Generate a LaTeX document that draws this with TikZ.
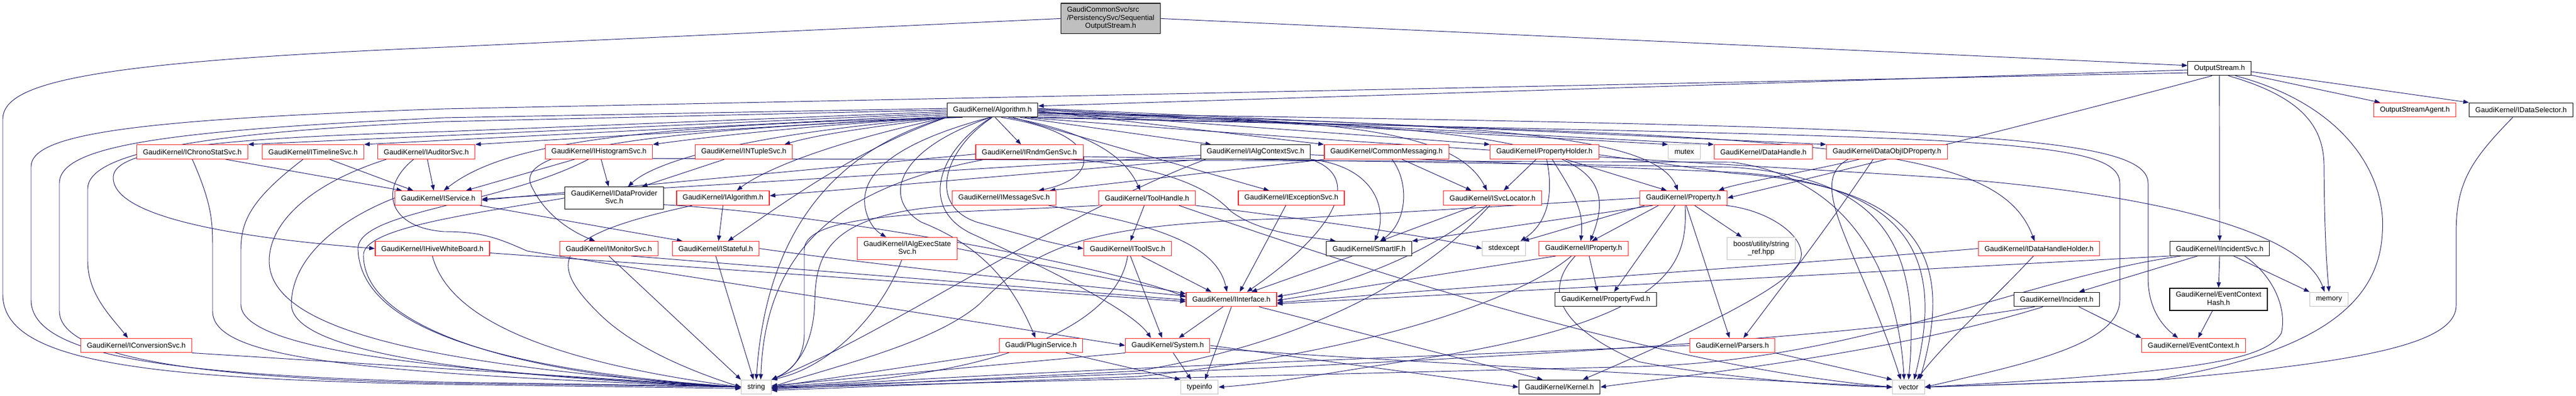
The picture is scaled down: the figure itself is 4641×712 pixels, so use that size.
\documentclass[tikz,border=0pt]{standalone}
\usepackage{fontspec}
\setmainfont{Liberation Sans}
\usetikzlibrary{arrows.meta}
\definecolor{mblue}{HTML}{191970}
\definecolor{lgray}{HTML}{BFBFBF}
\definecolor{nred}{HTML}{FF2020}
\pgfdeclarelayer{bg}
\pgfsetlayers{bg,main}
\newcommand\twol[2]{\begin{tabular}{@{}l@{}}#1\\\multicolumn{1}{@{}c@{}}{#2}\end{tabular}}
\tikzset{
  nb/.style={draw=black, line width=1.3pt, fill=white, font=\fontsize{13}{14.6}\selectfont,
             inner xsep=11pt, inner ysep=0pt, minimum height=25.6pt},
  nr/.style={nb, draw=nred},
  ng/.style={nb, draw=lgray},
  nm/.style={nb, fill=lgray, minimum height=54.7pt},
  tall/.style={minimum height=40pt},
  e/.style={draw=mblue, line width=0.95pt, -{Triangle[length=10pt,width=7.5pt]}}
}
\begin{document}
\begin{tikzpicture}[x=1pt,y=-1pt]
\begin{pgfonlayer}{bg}
\fill[white] (0,0) rectangle (4641,712);
\end{pgfonlayer}
\useasboundingbox (0,0) rectangle (4641,712);
% ---------------- nodes
\node[nm] (main) at (2001,33.4) {\begin{tabular}{@{}l@{}}GaudiCommonSvc/src\\/PersistencySvc/Sequential\\\multicolumn{1}{@{}c@{}}{OutputStream.h}\end{tabular}};
\node[nb] (os) at (3998.6,123) {OutputStream.h};
\node[nb] (alg) at (1788,198) {GaudiKernel/Algorithm.h};
\node[nr] (osa) at (4350.6,198) {OutputStreamAgent.h};
\node[nb] (dsel) at (4542,198) {GaudiKernel/IDataSelector.h};
% row 3
\node[nr] (chrono) at (346.5,273.5) {GaudiKernel/IChronoStatSvc.h};
\node[nr] (timeline) at (564,273.5) {GaudiKernel/ITimelineSvc.h};
\node[nr] (auditor) at (768,273.5) {GaudiKernel/IAuditorSvc.h};
\node[nr] (histo) at (1079,273.5) {GaudiKernel/IHistogramSvc.h};
\node[nr] (ntuple) at (1340,273.5) {GaudiKernel/INTupleSvc.h};
\node[nr] (rndm) at (1854.5,273.5) {GaudiKernel/IRndmGenSvc.h};
\node[nb] (algctx) at (2262,273.5) {GaudiKernel/IAlgContextSvc.h};
\node[nr] (cmsg) at (2498,273.5) {GaudiKernel/CommonMessaging.h};
\node[nr] (pholder) at (2782.5,273.5) {GaudiKernel/PropertyHolder.h};
\node[ng] (mutex) at (3034.5,273.5) {mutex};
\node[nr] (dhandle) at (3177,273.5) {GaudiKernel/DataHandle.h};
\node[nr] (doidp) at (3399.5,273.5) {GaudiKernel/DataObjIDProperty.h};
% row 4
\node[nr] (isvc) at (789.5,356.5) {GaudiKernel/IService.h};
\node[nb,tall] (dprov) at (1106.5,356.6) {\twol{GaudiKernel/IDataProvider}{Svc.h}};
\node[nr] (ialg) at (1302.5,356.5) {GaudiKernel/IAlgorithm.h};
\node[nr] (imsg) at (1809,356.5) {GaudiKernel/IMessageSvc.h};
\node[nr] (toolh) at (2066.5,356.5) {GaudiKernel/ToolHandle.h};
\node[nr] (iexc) at (2326.5,356.5) {GaudiKernel/IExceptionSvc.h};
\node[nr] (svcloc) at (2689,356.5) {GaudiKernel/ISvcLocator.h};
\node[nr] (prop) at (3033,356.5) {GaudiKernel/Property.h};
% row 5
\node[nr] (hive) at (779,447.5) {GaudiKernel/IHiveWhiteBoard.h};
\node[nr] (imon) at (1097,447.5) {GaudiKernel/IMonitorSvc.h};
\node[nr] (istate) at (1289.5,447.5) {GaudiKernel/IStateful.h};
\node[nr,tall] (aexec) at (1634.5,447.5) {\twol{GaudiKernel/IAlgExecState}{Svc.h}};
\node[nr] (itool) at (2031.5,447.5) {GaudiKernel/IToolSvc.h};
\node[nb] (smartif) at (2466.5,447.5) {GaudiKernel/SmartIF.h};
\node[ng] (stdexc) at (2709.5,447.5) {stdexcept};
\node[nr] (iprop) at (2853,447.5) {GaudiKernel/IProperty.h};
\node[ng,tall] (boost) at (3173,447.5) {\twol{boost/utility/string}{\_ref.hpp}};
\node[nr] (dhh) at (3673.5,447.5) {GaudiKernel/IDataHandleHolder.h};
\node[nb] (iincsvc) at (3999,447.5) {GaudiKernel/IIncidentSvc.h};
% row 6
\node[nr] (iinterface) at (2218.5,539) {GaudiKernel/IInterface.h};
\node[nb] (pfwd) at (2893,539) {GaudiKernel/PropertyFwd.h};
\node[nb] (incident) at (3705.5,539) {GaudiKernel/Incident.h};
\node[nb,tall] (echash) at (3997,539) {\twol{GaudiKernel/EventContext}{Hash.h}};
\node[ng] (memory) at (4196,539) {memory};
% row 7
\node[nr] (iconv) at (245.5,622) {GaudiKernel/IConversionSvc.h};
\node[nr] (plugin) at (1875.5,622) {Gaudi/PluginService.h};
\node[nr] (system) at (2103.7,622) {GaudiKernel/System.h};
\node[nr] (parsers) at (3121,622) {GaudiKernel/Parsers.h};
\node[nr] (evctx) at (3952,622) {GaudiKernel/EventContext.h};
% row 8
\node[ng] (string) at (1362.5,697) {string};
\node[ng] (typeinfo) at (2161,697) {typeinfo};
\node[nb] (kernel) at (2809.5,697) {GaudiKernel/Kernel.h};
\node[ng] (vector) at (3438.5,697) {vector};
% ---------------- edges
\begin{pgfonlayer}{bg}
% main
\draw[e] (main.east) -- (os.175);
\draw[e] (main.west) -- (800,85) .. controls (150,112) and (5,150) .. (5,215) -- (5,530) .. controls (5,650) and (250,682) .. (800,692) -- (string.185);
% OutputStream
\draw[e] (os.183) -- (alg.5);
\draw[e] (os.188) -- (800,196) .. controls (250,215) and (56,240) .. (56,300) -- (56,540) .. controls (56,640) and (300,675) .. (800,688) -- (string.178);
\draw[e] (os.225) .. controls (3750,200) and (3350,300) .. (prop.east);
\draw[e] (os.south) -- (iincsvc.north);
\draw[e] (os.-40) .. controls (4150,175) and (4187,230) .. (4187,300) .. controls (4188,430) and (4192,480) .. (memory.north);
\draw[e] (os.-25) .. controls (4230,190) and (4300,320) .. (4292,420) .. controls (4285,560) and (4150,640) .. (3880,684) -- (vector.east);
\draw[e] (os.-12) -- ([xshift=12pt]osa.north west);
\draw[e] (os.-6) -- (dsel.north west);
% IDataSelector
\draw[e] ([xshift=-15pt]dsel.south) .. controls (4450,290) and (4425,330) .. (4425,420) -- (4425,550) .. controls (4425,620) and (4250,652) .. (3900,683) -- (vector.east);
% Algorithm, left fan
\draw[e] (alg.178) -- (800,212) .. controls (300,235) and (107,262) .. (107,330) -- (107,560) .. controls (107,650) and (400,682) .. (800,690) -- (string.west);
\draw[e] (alg.180) -- (800,219) .. controls (330,240) and (158,280) .. (158,340) -- (158,470) .. controls (158,530) and (200,570) .. ([xshift=-15pt]iconv.north);
\draw[e] (alg.182) -- (800,237) .. controls (300,250) and (204,280) .. (204,320) .. controls (204,395) and (450,430) .. (hive.west);
\draw[e] (alg.184) -- (chrono.north east);
\draw[e] (alg.186) -- (timeline.north east);
\draw[e] (alg.188) -- (auditor.north east);
\draw[e] (alg.190) .. controls (1450,225) and (1250,250) .. (histo.north east);
\draw[e] (alg.south west) .. controls (1600,225) and (1480,240) .. ([xshift=-15pt]ntuple.north east);
\draw[e] (alg.194) .. controls (1100,225) and (900,265) .. ([xshift=10pt]isvc.north);
\draw[e] (alg.south west) .. controls (1350,240) and (1180,290) .. ([xshift=25pt]dprov.north);
\draw[e] (alg.south west) .. controls (1480,260) and (1370,310) .. ([xshift=25pt]ialg.north);
\draw[e] (alg.south west) .. controls (1550,265) and (1420,360) .. ([xshift=22pt]istate.north);
\draw[e] (alg.192) .. controls (1000,240) and (930,290) .. (960,340) .. controls (990,400) and (1050,425) .. ([xshift=-25pt]imon.north);
\draw[e] (alg.south west) .. controls (1500,270) and (1380,420) .. (string.north);
\draw[e] (alg.250) .. controls (1600,260) and (1545,320) .. (1560,380) .. controls (1568,410) and (1585,420) .. ([xshift=-38pt]aexec.north);
\draw[e] (alg.255) .. controls (1610,270) and (1590,360) .. (1660,400) .. controls (1760,440) and (1820,500) .. ([xshift=-10pt]plugin.north);
\draw[e] (alg.262) .. controls (1690,270) and (1650,380) .. (1760,425) .. controls (1900,490) and (2040,560) .. ([xshift=-30pt]system.north);
\draw[e] (alg.268) .. controls (1700,270) and (1670,370) .. (1760,400) .. controls (1850,425) and (1900,440) .. (itool.west);
% Algorithm, down/right
\draw[e] (alg.290) -- ([xshift=-15pt]rndm.north);
\draw[e] (alg.320) .. controls (1990,240) and (1985,320) .. ([xshift=62pt]imsg.north);
\draw[e] (alg.335) .. controls (1980,240) and (2030,290) .. ([xshift=-12pt]toolh.north);
\draw[e] (alg.340) -- ([xshift=-40pt]iexc.north);
\draw[e] (alg.345) -- ([xshift=-80pt]algctx.north);
\draw[e] (alg.-1) -- (cmsg.north west);
\draw[e] (alg.-2) -- (pholder.north west);
\draw[e] (alg.0) -- (mutex.north west);
\draw[e] (alg.1) -- (dhandle.north west);
\draw[e] (alg.2) -- (doidp.north west);
\draw[e] (alg.-3) .. controls (2400,215) and (2620,230) .. ([xshift=-10pt]svcloc.north);
\draw[e] (alg.-5) .. controls (2650,220) and (2980,240) .. ([xshift=-10pt]prop.north);
\draw[e] (alg.-7) .. controls (2800,222) and (2930,270) .. ([xshift=12pt]iprop.north);
\draw[e] (alg.-9) .. controls (3300,240) and (3600,260) .. ([xshift=-8pt]dhh.north);
\draw[e] (alg.-4) .. controls (3500,228) and (3870,240) .. (3870,330) -- (3870,500) .. controls (3870,560) and (3900,590) .. ([xshift=-28pt]evctx.north);
\draw[e] (alg.-11) .. controls (3500,250) and (3819,240) .. (3819,330) -- (3819,540) .. controls (3819,620) and (3650,655) .. (vector.east);
\draw[e] (alg.-13) .. controls (2600,270) and (3200,300) .. (3500,320) .. controls (3900,350) and (4150,420) .. ([xshift=-8pt]memory.north);
% row 3
\draw[e] ([xshift=60pt]chrono.south) -- ([xshift=-65pt]isvc.north);
\draw[e] (chrono.south) .. controls (383,370) and (383,400) .. (383,450) -- (383,560) .. controls (383,640) and (600,672) .. (string.west);
\draw[e] ([xshift=30pt]timeline.south) -- ([xshift=-45pt]isvc.north);
\draw[e] ([xshift=-18pt]timeline.south) .. controls (450,360) and (434,400) .. (434,450) -- (434,548) .. controls (434,620) and (700,665) .. (string.west);
\draw[e] ([xshift=2pt]auditor.south) -- ([xshift=-8pt]isvc.north);
\draw[e] ([xshift=-72pt]auditor.south) .. controls (560,330) and (485,400) .. (485,470) .. controls (485,600) and (800,660) .. (string.west);
\draw[e] ([xshift=-23pt]auditor.south) .. controls (680,340) and (700,410) .. (800,417) .. controls (870,417) and (900,430) .. (950,452) -- (system.west);
\draw[e] ([xshift=-44pt]histo.south) -- ([xshift=50pt]isvc.north);
\draw[e] ([xshift=4pt]histo.south) -- ([xshift=-10pt]dprov.north);
\draw[e] ([xshift=-19pt]histo.south) .. controls (900,370) and (640,380) .. (645,450) .. controls (650,560) and (800,660) .. (string.west);
\draw[e] (histo.-7) -- (3120,292) .. controls (3339,320) and (3420,500) .. ([xshift=-8pt]vector.north);
\draw[e] ([xshift=-35pt]ntuple.south) -- ([xshift=50pt]dprov.north);
\draw[e] ([yshift=-4pt]rndm.west) -- ([yshift=-4pt]isvc.east);
\draw[e] ([xshift=-80pt]rndm.south) .. controls (1550,330) and (1380,420) .. ([xshift=8pt]string.north);
\draw[e] (rndm.-5) -- (3120,301) .. controls (3400,320) and (3460,450) .. (vector.north);
\draw[e] (rndm.-10) .. controls (2100,300) and (2180,340) .. (2217,380) .. controls (2270,420) and (2350,425) .. ([xshift=-60pt]smartif.north);
\draw[e] (algctx.south west) -- ([yshift=4pt]ialg.east);
\draw[e] ([yshift=-6pt]algctx.west) -- ([yshift=-2pt]isvc.east);
\draw[e] (algctx.south east) .. controls (2460,320) and (2400,420) .. ([xshift=28pt]iinterface.north);
\draw[e] (algctx.south east) .. controls (2480,300) and (2500,380) .. ([xshift=10pt]smartif.north);
\draw[e] ([xshift=-90pt]algctx.south) .. controls (1900,390) and (1600,600) .. (string.north east);
\draw[e] (algctx.-3) -- (3120,310) .. controls (3460,330) and (3500,480) .. ([xshift=10pt]vector.north);
\draw[e] ([xshift=-112pt]cmsg.south) -- ([xshift=-12pt]imsg.north east);
\draw[e] ([xshift=28pt]cmsg.south) -- ([xshift=-38pt]svcloc.north);
\draw[e] ([xshift=10pt]cmsg.south) .. controls (2540,330) and (2535,400) .. ([xshift=20pt]smartif.north);
\draw[e] ([xshift=-15pt]pholder.south) -- ([xshift=20pt]svcloc.north);
\draw[e] ([xshift=4pt]pholder.south) .. controls (2799,347) and (2790,400) .. ([xshift=30pt]stdexc.north);
\draw[e] ([xshift=14pt]pholder.south) .. controls (2840,356) and (2853,380) .. ([xshift=-5pt]iprop.north);
\draw[e] ([xshift=38pt]pholder.south) -- ([xshift=-30pt]prop.north);
\draw[e] (pholder.-3) -- (3120,312) .. controls (3470,335) and (3520,470) .. ([xshift=20pt]vector.north);
\draw[e] ([xshift=-50pt]doidp.south) .. controls (3250,310) and (3130,330) .. ([xshift=-16pt]prop.north east);
\draw[e] ([xshift=-25pt]doidp.south) .. controls (3300,400) and (3200,530) .. ([xshift=20pt]parsers.north);
\draw[e] ([xshift=-70pt]doidp.south) .. controls (3250,330) and (3350,450) .. ([xshift=-14pt]vector.north);
% row 4
\draw[e] ([xshift=75pt]isvc.south) -- ([xshift=-60pt]istate.north);
\draw[e] (isvc.west) .. controls (600,400) and (525,470) .. (525,548) .. controls (525,640) and (900,680) .. (string.west);
\draw[e] (dprov.west) .. controls (850,385) and (660,410) .. (655,457) .. controls (650,580) and (900,675) .. (string.west);
\draw[e] ([yshift=-12pt]dprov.east) .. controls (1500,385) and (2000,480) .. ([yshift=4pt]iinterface.west);
\draw[e] (ialg.south) -- ([xshift=5pt]istate.north);
\draw[e] ([xshift=-55pt]ialg.south) .. controls (994,425) and (980,470) .. (1086,571) .. controls (1150,630) and (1250,670) .. (string.west);
\draw[e] (imsg.south west) .. controls (1500,385) and (1470,450) .. (1468,540) .. controls (1466,640) and (1420,670) .. (string.north east);
\draw[e] ([xshift=80pt]imsg.south) .. controls (2050,400) and (2190,430) .. ([xshift=-8pt]iinterface.north);
\draw[e] ([xshift=-5pt]toolh.south) -- ([xshift=5pt]itool.north);
\draw[e] (toolh.south west) .. controls (1700,385) and (1449,380) .. (1449,450) -- (1449,600) .. controls (1449,650) and (1420,670) .. (string.north east);
\draw[e] (toolh.south east) .. controls (2400,400) and (2600,430) .. (stdexc.west);
\draw[e] ([xshift=-30pt]toolh.south east) .. controls (2500,500) and (3000,660) .. (vector.west);
\draw[e] ([xshift=-10pt]iexc.south) -- ([xshift=15pt]iinterface.north);
\draw[e] ([xshift=-30pt]svcloc.south) -- ([xshift=20pt]smartif.north);
\draw[e] ([xshift=-10pt]svcloc.south) .. controls (2600,440) and (2450,510) .. ([yshift=5pt]iinterface.east);
\draw[e] ([xshift=-5pt]svcloc.south) .. controls (2620,440) and (2450,600) .. (2050,668) -- (string.-8);
\draw[e] ([xshift=-45pt]prop.south) -- ([xshift=15pt]iprop.north);
\draw[e] ([xshift=-15pt]prop.south) -- ([xshift=15pt]pfwd.north);
\draw[e] ([xshift=20pt]prop.south) -- ([xshift=-35pt]boost.north);
\draw[e] ([xshift=5pt]prop.south) -- ([xshift=-5pt]parsers.north);
\draw[e] ([xshift=-55pt]prop.south) -- (smartif.north east);
\draw[e] ([xshift=-70pt]prop.south) -- ([xshift=35pt]stdexc.north);
\draw[e] (prop.west) -- (2340,393) .. controls (1960,402) and (1870,440) .. (1764,548) .. controls (1680,620) and (1500,660) .. (string.east);
\draw[e] ([xshift=3pt]prop.south) .. controls (3040,470) and (3020,570) .. (2600,640) .. controls (2400,670) and (2300,690) .. (typeinfo.east);
\draw[e] (prop.-10) .. controls (3200,380) and (3270,440) .. (3237,479) .. controls (3200,530) and (3000,620) .. ([xshift=42pt]kernel.north);
% row 5
\draw[e] ([xshift=-50pt]iprop.south) -- ([yshift=-2pt]iinterface.east);
\draw[e] ([xshift=-22pt]iprop.south) .. controls (2750,530) and (2500,630) .. (2050,678) -- (string.-12);
\draw[e] ([xshift=-15pt]iprop.south) .. controls (2785,518) and (2797,584) .. (2951,651) .. controls (3100,680) and (3300,695) .. (vector.west);
\draw[e] ([xshift=10pt]iprop.south) -- ([xshift=-15pt]pfwd.north);
\draw[e] ([xshift=-30pt]smartif.south) -- ([xshift=36pt]iinterface.north);
\draw[e] (hive.south) .. controls (800,540) and (900,640) .. (string.west);
\draw[e] ([yshift=-8pt]hive.east) -- ([yshift=-4pt]iinterface.west);
\draw[e] (imon.south) -- (string.north west);
\draw[e] ([xshift=40pt]imon.south) -- ([yshift=-1pt]iinterface.west);
\draw[e] (istate.south) -- ([xshift=-5pt]string.north);
\draw[e] (istate.east) .. controls (1600,480) and (1900,510) .. ([yshift=6pt]iinterface.west);
\draw[e] (aexec.east) -- ([yshift=10pt]iinterface.west);
\draw[e] ([xshift=-10pt]aexec.south) .. controls (1590,560) and (1500,660) .. (string.north east);
\draw[e] ([xshift=25pt]itool.south) -- ([xshift=-36pt]iinterface.north);
\draw[e] ([xshift=5pt]itool.south) -- ([xshift=-10pt]system.north);
\draw[e] (itool.south) .. controls (2019,548) and (1900,650) .. (1560,685) -- (string.east);
\draw[e] ([xshift=-10pt]dhh.south) .. controls (3600,530) and (3500,620) .. ([xshift=15pt]vector.north);
\draw[e] (dhh.west) .. controls (3300,470) and (2600,520) .. ([yshift=-6pt]iinterface.east);
\draw[e] ([xshift=-40pt]iincsvc.south) -- ([xshift=40pt]incident.north);
\draw[e] (iincsvc.south) -- (echash.north);
\draw[e] ([xshift=25pt]iincsvc.south) -- (memory.north west);
\draw[e] ([xshift=45pt]iincsvc.south) .. controls (4100,500) and (4120,560) .. (4110,600) .. controls (4080,650) and (3950,670) .. (vector.east);
\draw[e] (iincsvc.south west) -- ([yshift=-8pt]iinterface.east);
\draw[e] ([xshift=-70pt]iincsvc.south) .. controls (3650,500) and (3350,650) .. (2950,660) -- (string.-3);
% row 6-7
\draw[e] ([xshift=-15pt]iinterface.south) -- ([xshift=20pt]system.north);
\draw[e] (iinterface.south) -- ([xshift=10pt]typeinfo.north);
\draw[e] ([xshift=50pt]iinterface.south) -- ([xshift=-30pt]kernel.north);
\draw[e] ([xshift=40pt]incident.south) -- (evctx.north west);
\draw[e] ([xshift=-40pt]incident.south) .. controls (3300,615) and (2500,660) .. (string.east);
\draw[e] ([xshift=-25pt]incident.south) .. controls (3400,640) and (3000,680) .. (kernel.east);
\draw[e] ([xshift=-11pt]echash.south) -- ([xshift=8pt]evctx.north);
\draw[e] ([xshift=45pt]plugin.south) -- (typeinfo.north west);
\draw[e] (plugin.south west) -- (string.east);
\draw[e] ([xshift=10pt]system.south) -- ([xshift=-15pt]typeinfo.north);
\draw[e] (system.south west) -- (string.5);
\draw[e] (system.east) -- (kernel.west);
\draw[e] ([yshift=-5pt]system.east) .. controls (2500,650) and (3000,675) .. (vector.west);
\draw[e] (parsers.south east) -- (vector.north west);
\draw[e] (parsers.west) .. controls (2600,640) and (1800,670) .. (string.-5);
\draw[e] (iconv.south east) -- (string.west);
\end{pgfonlayer}
\end{tikzpicture}
\end{document}
